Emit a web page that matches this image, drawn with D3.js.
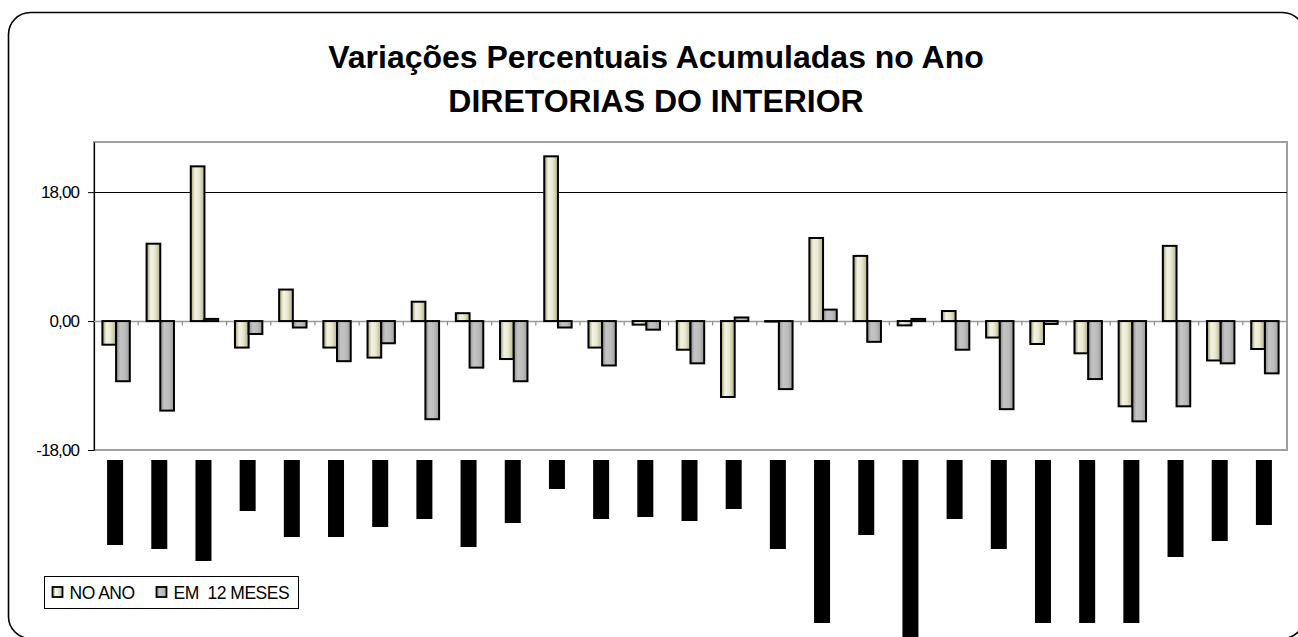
<!DOCTYPE html>
<html>
<head>
<meta charset="utf-8">
<script src="https://cdn.jsdelivr.net/npm/d3@7"></script>
<style>
  html, body { margin: 0; padding: 0; background: #fff; }
  svg { display: block; }
  text { font-family: "Liberation Sans", Arial, sans-serif; }
</style>
</head>
<body>
<svg id="chart" width="1298" height="637"></svg>
<script>
// ---- data ----
const titleLines = ["Variações Percentuais Acumuladas no Ano", "DIRETORIAS DO INTERIOR"];
const seriesNames = ["NO ANO", "EM  12 MESES"];
const categories = d3.range(1, 28).map(i => "D" + i);   // category labels are redacted in the source
const noAno =   [-3.3, 10.8, 21.6, -3.7, 4.4, -3.7, -5.1, 2.7, 1.1, -5.3, 23.0, -3.7, -0.5, -4.0, -10.6, 0.0, 11.6, 9.1, -0.6, 1.4, -2.3, -3.2, -4.5, -11.9, 10.5, -5.5, -3.9];
const em12 =    [-8.4, -12.5, 0.3, -1.8, -0.9, -5.6, -3.1, -13.7, -6.5, -8.4, -0.9, -6.2, -1.2, -5.9, 0.5, -9.5, 1.6, -2.9, 0.3, -4.0, -12.3, -0.4, -8.1, -14.0, -11.9, -5.9, -7.3];
const redactedLabelLength = [85, 89, 101, 51, 77, 77, 67, 59, 87, 63, 29, 59, 57, 61, 49, 89, 163, 75, 177, 59, 89, 163, 163, 163, 97, 81, 65];
const yTicks = [-18, 0, 18];
const yTickLabels = ["-18,00", "0,00", "18,00"];

// ---- layout ----
const svg = d3.select("#chart");
const plot = { left: 94, right: 1287, top: 142, bottom: 450 };

const defs = svg.append("defs");
const g1 = defs.append("linearGradient").attr("id", "gNo").attr("x1", "0").attr("x2", "1").attr("y1", "0").attr("y2", "0");
g1.append("stop").attr("offset", "0%").attr("stop-color", "#9a9a68");
g1.append("stop").attr("offset", "30%").attr("stop-color", "#f3f3e4");
g1.append("stop").attr("offset", "60%").attr("stop-color", "#e9e9d2");
g1.append("stop").attr("offset", "100%").attr("stop-color", "#b2b288");
const g2 = defs.append("linearGradient").attr("id", "gEm").attr("x1", "0").attr("x2", "1").attr("y1", "0").attr("y2", "0");
g2.append("stop").attr("offset", "0%").attr("stop-color", "#8c8c8c");
g2.append("stop").attr("offset", "30%").attr("stop-color", "#c4c4c4");
g2.append("stop").attr("offset", "65%").attr("stop-color", "#bcbcbc");
g2.append("stop").attr("offset", "100%").attr("stop-color", "#9a9a9a");
const fills = ["url(#gNo)", "url(#gEm)"];

// outer rounded frame
svg.append("rect")
  .attr("x", 8.5).attr("y", 12.5).attr("width", 1296).attr("height", 626)
  .attr("rx", 22).attr("ry", 22)
  .attr("fill", "#fff").attr("stroke", "#000").attr("stroke-width", 1.6);

// title
svg.selectAll("text.title").data(titleLines).join("text")
  .attr("class", "title")
  .attr("x", 656).attr("y", (d, i) => 68 + i * 44)
  .attr("text-anchor", "middle")
  .attr("font-size", 32).attr("font-weight", "bold")
  .text(d => d);

// scales
const x = d3.scaleBand().domain(categories).range([plot.left, plot.right]).padding(0);
const xs = d3.scaleBand().domain([0, 1]).range([x.bandwidth() * 0.19, x.bandwidth() * 0.81]);
const y = d3.scaleLinear().domain([-18, 25]).range([plot.bottom, plot.top]);
const lenScale = d3.scaleLinear().domain([0, 1]).range([0, 1]);

// plot area border
svg.append("rect")
  .attr("x", plot.left).attr("y", plot.top)
  .attr("width", plot.right - plot.left).attr("height", plot.bottom - plot.top)
  .attr("fill", "#fff").attr("stroke", "#a0a0a0").attr("stroke-width", 2);

// gridline at 18
svg.append("line")
  .attr("x1", plot.left).attr("x2", plot.right)
  .attr("y1", Math.round(y(18)) + 0.5).attr("y2", Math.round(y(18)) + 0.5)
  .attr("stroke", "#000").attr("stroke-width", 1.2);

// y axis
const yAxis = d3.axisLeft(y).tickValues(yTicks).tickSize(6).tickSizeOuter(0).tickPadding(9)
  .tickFormat(d => yTickLabels[yTicks.indexOf(d)]);
const ya = svg.append("g").attr("transform", `translate(${plot.left},0)`).call(yAxis);
ya.select(".domain").attr("stroke", "#000").attr("stroke-width", 1.2);
ya.selectAll(".tick line").attr("stroke", "#000");
ya.selectAll(".tick text").attr("font-size", 17).attr("fill", "#000")
  .attr("font-family", "'Liberation Sans', Arial, sans-serif").attr("letter-spacing", -0.9);

// zero axis with category ticks
const zeroY = Math.round(y(0)) + 0.5;
svg.append("line").attr("x1", plot.left).attr("x2", plot.right)
  .attr("y1", zeroY).attr("y2", zeroY).attr("stroke", "#9a9a9a").attr("stroke-width", 1.5);
svg.append("g").selectAll("line").data(categories.slice(1)).join("line")
  .attr("x1", d => x(d)).attr("x2", d => x(d))
  .attr("y1", zeroY).attr("y2", zeroY + 4)
  .attr("stroke", "#8a8a8a").attr("stroke-width", 1.2);

// bars
const groups = svg.append("g").selectAll("g").data(categories).join("g")
  .attr("transform", d => `translate(${x(d)},0)`);
groups.selectAll("rect").data((d, i) => [noAno[i], em12[i]].map((v, s) => ({ v, s })))
  .join("rect")
  .attr("x", d => xs(d.s))
  .attr("width", xs.bandwidth())
  .attr("y", d => Math.min(y(d.v), y(0)))
  .attr("height", d => Math.max(Math.abs(y(d.v) - y(0)), 0.5))
  .attr("fill", d => fills[d.s])
  .attr("stroke", "#000").attr("stroke-width", 2);

// redacted category labels (black blocks)
svg.append("g").selectAll("rect").data(categories).join("rect")
  .attr("x", d => x(d) + x.bandwidth() / 2 - 9)
  .attr("y", 460)
  .attr("width", 16)
  .attr("height", (d, i) => lenScale(redactedLabelLength[i]))
  .attr("fill", "#000");

// legend
const lg = svg.append("g").attr("transform", "translate(44.5,576.5)");
lg.append("rect").attr("width", 254).attr("height", 32).attr("fill", "#fff").attr("stroke", "#000").attr("stroke-width", 1);
const legendX = [8, 112];
seriesNames.forEach((name, i) => {
  lg.append("rect").attr("x", legendX[i]).attr("y", 10.5).attr("width", 10).attr("height", 10)
    .attr("fill", fills[i]).attr("stroke", "#000").attr("stroke-width", 1.8);
  lg.append("text").attr("x", legendX[i] + 17).attr("y", 22.5)
    .attr("font-size", 17.5).attr("fill", "#000").style("white-space", "pre")
    .attr("letter-spacing", -0.5)
    .text(name);
});
</script>
</body>
</html>
